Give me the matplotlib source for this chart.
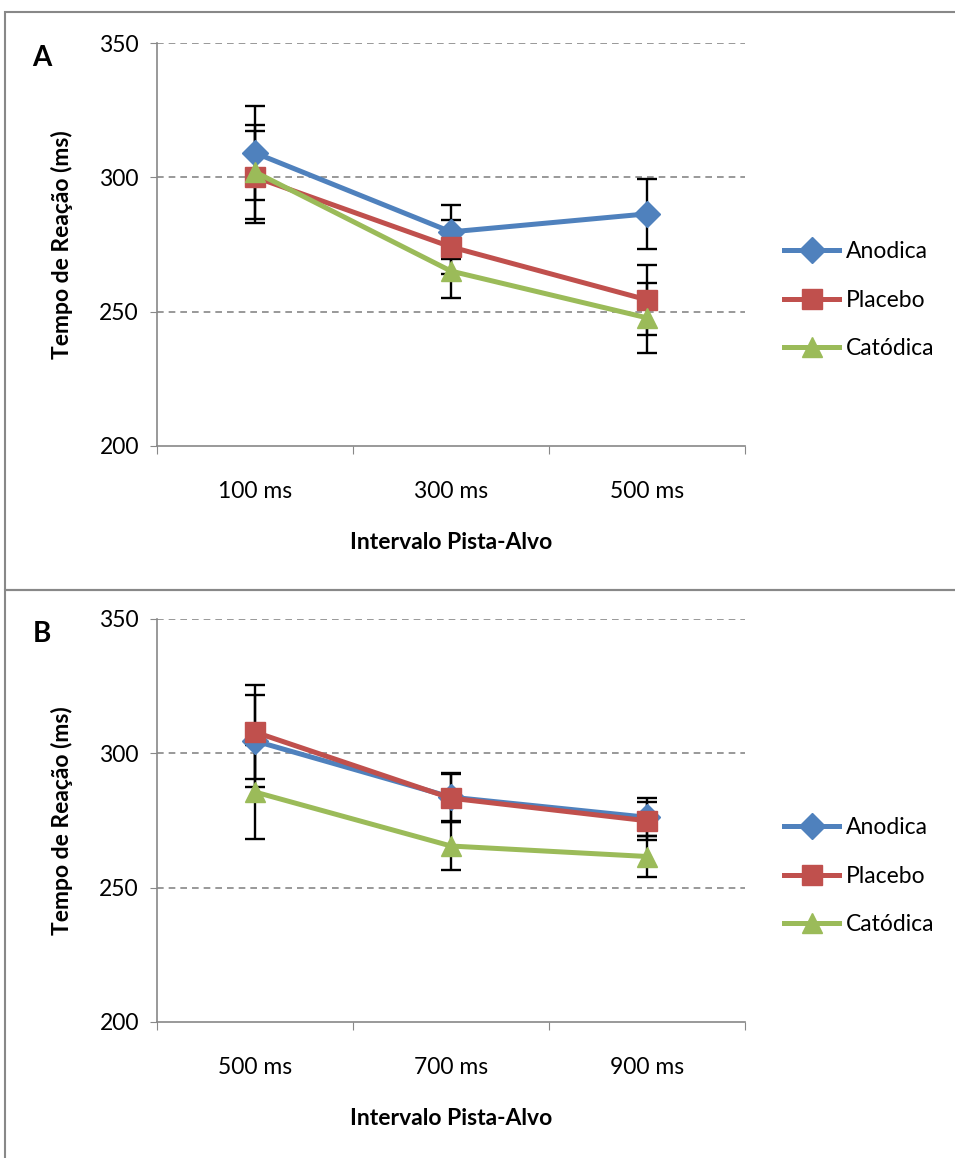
import matplotlib
matplotlib.use('Agg')
import matplotlib.pyplot as plt
from matplotlib.patches import Rectangle

plt.rcParams['font.family'] = ['Lato', 'DejaVu Sans']

series = ['Anodica', 'Placebo', 'Catódica']
colors = ['#4F81BD', '#C0504D', '#9BBB59']
markers = ['D', 's', '^']
msizes = [13, 14, 15]

# painel A
cats_a = ['100 ms', '300 ms', '500 ms']
anod_a = [309.1, 279.7, 286.4]
plac_a = [300.1, 274.1, 254.4]
cato_a = [302.0, 265.1, 247.7]
err_anod_a = [17.6, 10.0, 13.0]
err_plac_a = [17.0, 10.0, 13.1]
err_cato_a = [17.5, 10.0, 13.1]

# painel B
cats_b = ['500 ms', '700 ms', '900 ms']
anod_b = [304.6, 283.7, 276.2]
plac_b = [307.9, 283.3, 274.9]
cato_b = [285.6, 265.5, 261.6]
err_anod_b = [17.0, 9.0, 7.0]
err_plac_b = [17.5, 9.0, 7.0]
err_cato_b = [17.6, 9.0, 7.5]

W, H = 955, 1158
fs = 16.5
fig = plt.figure(figsize=(W / 100, H / 100), dpi=100)

# molduras dos paineis
fig.patches.append(Rectangle((5 / W, 1 - 590 / H), 1.2, 578 / H, transform=fig.transFigure,
                             fill=False, edgecolor='#888888', linewidth=1.5))
fig.patches.append(Rectangle((5 / W, -0.05), 1.2, 1 - 590 / H + 0.05, transform=fig.transFigure,
                             fill=False, edgecolor='#888888', linewidth=1.5))


def painel(top_px, letra, cats, vals, errs):
    left, right, bottom = 157, 745, top_px + 403
    ax = fig.add_axes([left / W, 1 - bottom / H, (right - left) / W, 403 / H])
    x = range(len(cats))
    for v, e in zip(vals, errs):
        ax.errorbar(x, v, yerr=e, fmt='none', ecolor='black', elinewidth=1.7,
                    capsize=7.5, capthick=1.7, zorder=2)
    for v, name, c, m, ms in zip(vals, series, colors, markers, msizes):
        ax.plot(x, v, color=c, lw=3.6, marker=m, markersize=ms, label=name, zorder=3)
    ax.set_ylim(200, 350)
    ax.set_xlim(-0.5, len(cats) - 0.5)
    ax.set_yticks([200, 250, 300, 350])
    ax.tick_params(axis='y', labelsize=fs, length=5, color='#888888', pad=8)
    ax.set_xticks([-0.5, 0.5, 1.5, 2.5])
    ax.set_xticklabels([])
    ax.set_xticks(list(x), minor=True)
    ax.set_xticklabels(cats, minor=True)
    ax.tick_params(axis='x', which='major', length=6, color='#888888')
    ax.tick_params(axis='x', which='minor', length=0, labelsize=fs, pad=25)
    for yv in [250, 300, 350]:
        ax.axhline(yv, color='#888888', lw=1.2, ls=(0, (4, 3)), zorder=1)
    for s in ['top', 'right']:
        ax.spines[s].set_visible(False)
    for s in ['left', 'bottom']:
        ax.spines[s].set_color('#888888')
        ax.spines[s].set_linewidth(1.2)
    ax.set_ylabel('Tempo de Reação (ms)', fontsize=fs, fontweight='bold', labelpad=19)
    ax.set_xlabel('Intervalo Pista-Alvo', fontsize=fs, fontweight='bold', labelpad=22)
    ax.legend(loc='center left', bbox_to_anchor=(1.032, 0.362), frameon=False,
              fontsize=fs, handlelength=2.4, labelspacing=1.2, handletextpad=0.3)
    fig.text(42 / W, 1 - (top_px + 15) / H, letra, fontsize=20, fontweight='bold',
             ha='center', va='center')
    return ax


painel(43, 'A', cats_a, [anod_a, plac_a, cato_a], [err_anod_a, err_plac_a, err_cato_a])
painel(619, 'B', cats_b, [anod_b, plac_b, cato_b], [err_anod_b, err_plac_b, err_cato_b])

fig.savefig('out.png', dpi=100)
